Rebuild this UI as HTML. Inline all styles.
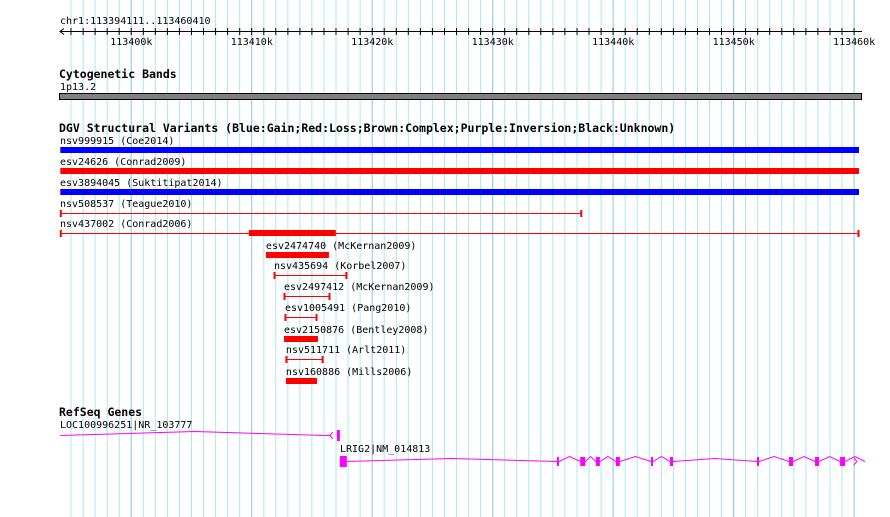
<!DOCTYPE html>
<html><head><meta charset="utf-8"><style>
html,body{margin:0;padding:0;background:#fff;}
svg{display:block;}
text{font-family:"DejaVu Sans Mono","Liberation Mono",monospace;font-size:10px;fill:#000;}
.h{font-weight:bold;font-size:11.5px;}
</style></head><body>
<svg id="c" width="890" height="517" viewBox="0 0 890 517"></svg>
<script>
// ---- data ----
const regionStart = 113394111;
const regionEnd = 113460410;
const tickLabels = ["113400k","113410k","113420k","113430k","113440k","113450k","113460k"];
const tickValues = [113400000,113410000,113420000,113430000,113440000,113450000,113460000];
const svNames = ["nsv999915 (Coe2014)","esv24626 (Conrad2009)","esv3894045 (Suktitipat2014)","nsv508537 (Teague2010)","nsv437002 (Conrad2006)","","esv2474740 (McKernan2009)","nsv435694 (Korbel2007)","esv2497412 (McKernan2009)","esv1005491 (Pang2010)","esv2150876 (Bentley2008)","nsv511711 (Arlt2011)","nsv160886 (Mills2006)"];
const svStarts = [113394111,113394111,113394111,113394111,113394111,113409760,113411180,113411850,113412680,113412760,113412680,113412840,113412840];
const svEnds   = [113460410,113460410,113460410,113437400,113460410,113416980,113416410,113417900,113416500,113415420,113415500,113415920,113415420];
const svColors = ["#0000ff","#ff0000","#0000ff","#ff0000","#ff0000","#ff0000","#ff0000","#ff0000","#ff0000","#ff0000","#ff0000","#ff0000","#ff0000"];
const svThick  = [1,1,1,0,0,1,1,0,0,0,1,0,1];
const svRowY   = [150,171,192,213,233,233,255,275,296,317,339,359,381];
const lrig2Exons = [[113417316,113417897],[113435336,113435500],[113437270,113437690],[113438570,113438900],[113440230,113440560],[113443140,113443310],[113444720,113444970],[113451940,113452110],[113454600,113454930],[113456760,113457090],[113458840,113459250]];
const lrig2End = 113460900;
const locStart = 113394111, locEnd = 113416490, locExon = [113417070,113417400];

// ---- scale ----
const X0 = 60.3, X1 = 859;
function x(p){ return X0 + (p-regionStart)/(regionEnd-regionStart)*(X1-X0); }
const NS="http://www.w3.org/2000/svg", svg=document.getElementById('c');
function el(t,a,parent){ const e=document.createElementNS(NS,t); for(const k in a) e.setAttribute(k,a[k]); (parent||svg).appendChild(e); return e; }
function txt(s,xx,yy,cls){ const e=el('text',{x:xx,y:yy}); if(cls) e.setAttribute('class',cls); e.textContent=s; return e; }

// grid
for(let k=113394; k<=113461; k++){
  const p=k*1000; if(p<regionStart||p>regionEnd) continue;
  const g=el('line',{x1:x(p).toFixed(1),x2:x(p).toFixed(1),y1:0,y2:517,stroke:(k%10===0)?'#80c8e8':'#a8e8f0','stroke-width':1});
  
  
}
// ruler
let t=txt("chr1:113394111..113460410",60,24);
 
let a=el('line',{x1:60,x2:862,y1:31.5,y2:31.5,stroke:'#000'});
 
el('path',{d:'M64,28.5 L60,31.5 L64,34.5',fill:'none',stroke:'#000'});
for(let k=113395; k<=113460; k++){
  const xx=x(k*1000).toFixed(1);
  el('line',{x1:xx,x2:xx,y1:28,y2:35,stroke:'#000'});
}
tickValues.forEach((v,i)=>{
  const e=txt(tickLabels[i],x(v)-21,45);
  
  
});
// cytoband
t=txt("Cytogenetic Bands",59,78,'h');  
txt("1p13.2",60,90);
let cb=el('rect',{x:59.5,y:93.5,width:802,height:6,fill:'#808080',stroke:'#000'});
 
// DGV
t=txt("DGV Structural Variants (Blue:Gain;Red:Loss;Brown:Complex;Purple:Inversion;Black:Unknown)",59,132,'h');
 
svNames.forEach((n,i)=>{
  const x1=x(svStarts[i]), x2=Math.min(862,x(svEnds[i])), y=svRowY[i], c=svColors[i];
  if(n){ const l=txt(n, i<5?60:x1, y-6);   }
  let m;
  if(svThick[i]){
    m=el('rect',{x:x1,y:y-3,width:x2-x1,height:6,fill:c});
  } else {
    m=el('g',{});
    el('line',{x1:x1,x2:x2,y1:y+0.5,y2:y+0.5,stroke:c},m);
    el('line',{x1:x1+0.5,x2:x1+0.5,y1:y-3,y2:y+4,stroke:c,'stroke-width':2},m);
    el('line',{x1:x2-0.5,x2:x2-0.5,y1:y-3,y2:y+4,stroke:c,'stroke-width':2},m);
  }
  
  
});
// RefSeq
t=txt("RefSeq Genes",59,416,'h');  
txt("LOC100996251|NR_103777",60,428);
const loc=el('g',{});  
const lx1=x(locStart), lx2=x(locEnd);
el('polyline',{points:`${lx1},435.5 ${(lx1+lx2)/2},431.5 ${lx2-5},435.5 ${lx2},435.5`,fill:'none',stroke:'#ff00ff'},loc);
el('path',{d:`M${lx2+3},432 L${lx2},435.5 L${lx2+3},439`,fill:'none',stroke:'#ff00ff'},loc);
el('rect',{x:x(locExon[0]),y:430,width:3,height:11,fill:'#ff00ff'},loc);
txt("LRIG2|NM_014813",340,452);
const lr=el('g',{});  
let pts=[];
for(let i=0;i<lrig2Exons.length;i++){
  const s=x(lrig2Exons[i][1]), e= i+1<lrig2Exons.length ? x(lrig2Exons[i+1][0]) : Math.min(866,x(lrig2End));
  const bump = (e-s)>60 ? 3 : 5;
  pts.push(`${s},461.5 ${(s+e)/2},${461.5-bump} ${e},461.5`);
}
el('polyline',{points:pts.join(' '),fill:'none',stroke:'#ff00ff'},lr);
lrig2Exons.forEach((ex,i)=>{
  const s=x(ex[0]), w=Math.max(2,x(ex[1])-s);
  el('rect',{x:s,y:i===0?456:457,width:w,height:i===0?11:9,fill:'#ff00ff'},lr);
});
const ae=Math.min(866,x(lrig2End))-8;
el('path',{d:`M${ae-3},458 L${ae},461.5 L${ae-3},465`,fill:'none',stroke:'#ff00ff'},lr);
</script>
</body></html>
